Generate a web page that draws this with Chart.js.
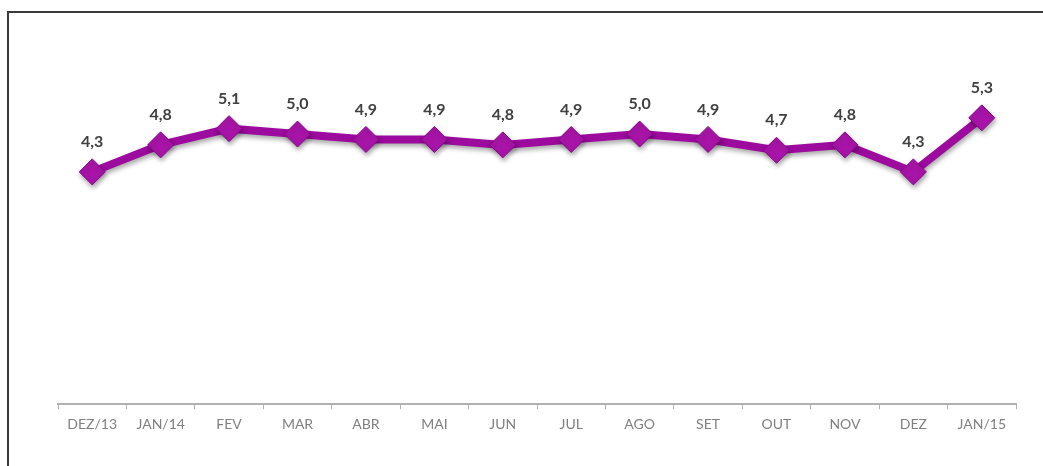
<!DOCTYPE html>
<html>
<head>
<meta charset="utf-8">
<script src="https://cdn.jsdelivr.net/npm/chart.js@4.4.0/dist/chart.umd.min.js"></script>
<style>
  html, body { margin: 0; padding: 0; background: #fff; }
  #wrap { position: relative; width: 1043px; height: 466px; overflow: hidden; }
  #frame { position: absolute; left: 7px; top: 11px; right: -10px; bottom: -10px;
           border-top: 2px solid #3a3a3a; border-left: 2px solid #3a3a3a; pointer-events: none; }
  canvas { position: absolute; left: 0; top: 0; }
</style>
</head>
<body>
<div id="wrap">
  <canvas id="c" width="1043" height="466"></canvas>
  <div id="frame"></div>
</div>
<script>
const categories = ["DEZ/13","JAN/14","FEV","MAR","ABR","MAI","JUN","JUL","AGO","SET","OUT","NOV","DEZ","JAN/15"];
const values = [4.3, 4.8, 5.1, 5.0, 4.9, 4.9, 4.8, 4.9, 5.0, 4.9, 4.7, 4.8, 4.3, 5.3];
const valueLabels = ["4,3","4,8","5,1","5,0","4,9","4,9","4,8","4,9","5,0","4,9","4,7","4,8","4,3","5,3"];

const shadowPlugin = {
  id: 'shadow',
  beforeDatasetDraw(chart) {
    const ctx = chart.ctx;
    ctx.save();
    ctx.shadowColor = 'rgba(0,0,0,0.35)';
    ctx.shadowBlur = 5;
    ctx.shadowOffsetX = 1;
    ctx.shadowOffsetY = 3;
  },
  afterDatasetDraw(chart) {
    chart.ctx.restore();
  }
};

const labelPlugin = {
  id: 'valueLabels',
  afterDatasetsDraw(chart) {
    const ctx = chart.ctx;
    const meta = chart.getDatasetMeta(0);
    ctx.save();
    ctx.font = 'bold 16px Lato, "Open Sans", sans-serif';
    ctx.fillStyle = '#404040';
    ctx.textAlign = 'center';
    ctx.textBaseline = 'middle';
    meta.data.forEach((pt, i) => {
      ctx.fillText(valueLabels[i], pt.x, pt.y - 30);
    });
    ctx.restore();
  }
};

new Chart(document.getElementById('c'), {
  type: 'line',
  data: {
    labels: categories,
    datasets: [{
      data: values,
      borderColor: '#9c0a9e',
      borderWidth: 8,
      pointStyle: 'rectRot',
      pointRadius: 13,
      pointHoverRadius: 13,
      pointBackgroundColor: '#a814a8',
      pointBorderColor: '#88068c',
      pointBorderWidth: 1,
      tension: 0,
      fill: false
    }]
  },
  options: {
    responsive: false,
    animation: false,
    events: [],
    layout: { padding: { left: 58, right: 27, top: 26, bottom: 26 } },
    plugins: { legend: { display: false }, tooltip: { enabled: false } },
    scales: {
      x: {
        offset: true,
        grid: { display: true, drawOnChartArea: false, drawTicks: true, tickLength: 5, color: '#b0b0b0', offset: true },
        border: { display: true, color: '#b0b0b0', width: 2 },
        ticks: { color: '#808080', font: { family: 'Lato, "Open Sans", sans-serif', size: 14 }, padding: 7, maxRotation: 0, autoSkip: false }
      },
      y: {
        display: false,
        min: 0,
        max: 7
      }
    }
  },
  plugins: [shadowPlugin, labelPlugin]
});
</script>
</body>
</html>
